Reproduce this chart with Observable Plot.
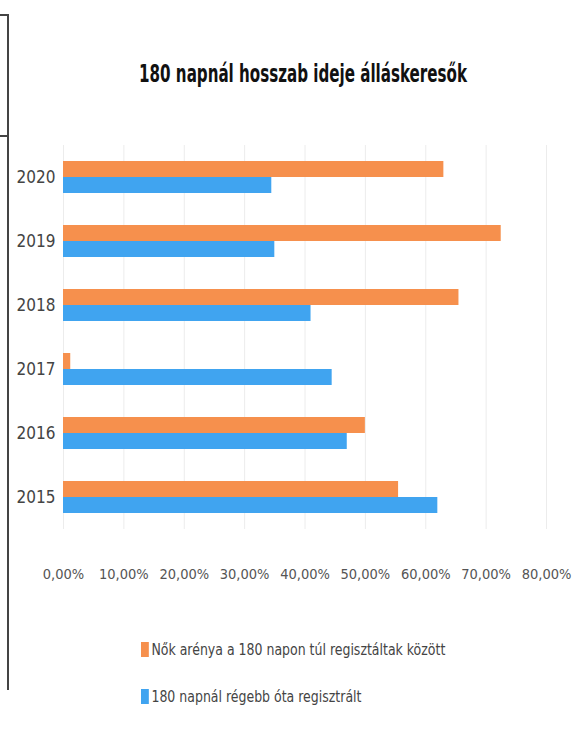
<!DOCTYPE html>
<html>
<head>
<meta charset="utf-8">
<script src="https://cdn.jsdelivr.net/npm/d3@7"></script>
<script src="https://cdn.jsdelivr.net/npm/@observablehq/plot@0.6"></script>
<style>
  body { margin: 0; background: #fff; }
  #wrap { position: relative; width: 585px; height: 733px; overflow: hidden; background: #fff;
          font-family: "DejaVu Sans Condensed", "DejaVu Sans", sans-serif; font-stretch: condensed; }
  #title { position: absolute; top: 60px; left: 0; width: 606px; text-align: center;
           font-weight: bold; font-size: 24px; color: #111; font-stretch: condensed;
           transform: scaleX(0.7); transform-origin: 303px 0; }
  #chart { position: absolute; top: 130px; left: 0; }
  .leg { position: absolute; left: 141px; font-size: 16px; color: #444; display: flex; align-items: center;
         font-stretch: condensed; transform: scaleX(0.87); transform-origin: 0 0; white-space: nowrap; }
  .sw { display: inline-block; width: 9px; height: 15px; margin-right: 3px; }
  .border-v { position: absolute; left: 7px; top: 14px; width: 0; height: 676px; border-left: 2px solid #444; }
  .border-h { position: absolute; left: 0; height: 0; border-top: 2px solid #444; }
  #chart svg text { font-stretch: condensed; }
</style>
</head>
<body>
<div id="wrap">
  <div class="border-v"></div>
  <div class="border-h" style="top:14px;width:9px"></div>
  <div class="border-h" style="top:135px;width:9px"></div>
  <div id="title">180 napnál hosszab ideje álláskeresők</div>
  <div id="chart"></div>
  <div class="leg" id="leg1" style="top:640px"></div>
  <div class="leg" id="leg2" style="top:687px"></div>
</div>
<script>
const years = ["2020", "2019", "2018", "2017", "2016", "2015"];
const seriesNames = ["Nők arénya a 180 napon túl regisztáltak között", "180 napnál régebb óta regisztrált"];
const womenShare = [63, 72.5, 65.5, 1.2, 50, 55.5];
const longTerm = [34.5, 35, 41, 44.5, 47, 62];
const xTicks = [0, 10, 20, 30, 40, 50, 60, 70, 80];
const colors = ["#F6904D", "#40A4F0"];

const data = [];
years.forEach((y, i) => {
  data.push({year: y, series: seriesNames[0], value: womenShare[i]});
  data.push({year: y, series: seriesNames[1], value: longTerm[i]});
});

const fmt = d => d.toFixed(2).replace(".", ",") + "%";

const chart = Plot.plot({
  width: 585,
  height: 459,
  marginLeft: 63,
  marginRight: 39,
  marginTop: 14,
  marginBottom: 60,
  style: {fontFamily: '"DejaVu Sans Condensed", "DejaVu Sans", sans-serif', color: "#444", background: "transparent"},
  x: {domain: [0, 80]},
  fy: {domain: years, padding: 0},
  y: {domain: seriesNames, paddingInner: 0, paddingOuter: 1, axis: null},
  color: {domain: seriesNames, range: colors},
  marks: [
    Plot.gridX(xTicks, {stroke: "#ececec", strokeOpacity: 1}),
    Plot.barX(data, {fy: "year", y: "series", x: "value", fill: "series"}),
    Plot.axisFy({anchor: "left", tickSize: 0, tickPadding: 8, fontSize: 17, label: null, fill: "#444"}),
    Plot.axisX(xTicks, {anchor: "bottom", tickSize: 0, tickPadding: 39, fontSize: 14.5, label: null, tickFormat: fmt, fill: "#555"})
  ]
});
document.getElementById("chart").appendChild(chart);

[["leg1", 0], ["leg2", 1]].forEach(([id, i]) => {
  const el = document.getElementById(id);
  const sw = document.createElement("span");
  sw.className = "sw";
  sw.style.background = colors[i];
  el.appendChild(sw);
  el.appendChild(document.createTextNode(seriesNames[i]));
});
</script>
</body>
</html>
